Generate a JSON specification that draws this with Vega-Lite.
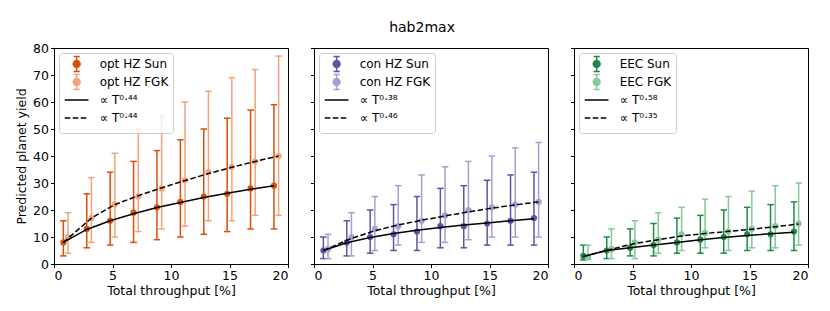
{
  "$schema": "https://vega.github.io/schema/vega-lite/v6.json",
  "padding": {"left": 15, "top": 20, "right": 5, "bottom": 5},
  "bounds": "flush",
  "spacing": 26,
  "title": {"text": "hab2max", "fontSize": 14, "fontWeight": "normal", "anchor": "middle", "offset": 7, "dx": 10, "color": "black", "font": "DejaVu Sans"},
  "config": {
    "font": "DejaVu Sans",
    "view": {"stroke": "black", "strokeWidth": 1},
    "scale": {"continuousPadding": 0},
    "axis": {"grid": false, "domainColor": "black", "tickColor": "black", "tickSize": 3.5, "tickWidth": 1, "labelColor": "black", "labelFontSize": 12.5, "titleFontSize": 12.5, "titleFontWeight": "normal", "titleColor": "black", "labelPadding": 2},
    "axisX": {"titlePadding": 3, "labelPadding": 1.5},
    "legend": {"orient": "top-left", "offset": 5, "padding": 4, "rowPadding": -4.7, "symbolSize": 156, "symbolOffset": 6.65, "labelOffset": 16, "labelFontSize": 12, "labelColor": "black", "strokeColor": "#cccccc", "fillColor": "rgba(255,255,255,0.8)", "cornerRadius": 3}
  },
  "datasets": {
    "pts": [
      {"panel": "opt", "series": "opt HZ Sun", "x": 0.8, "y": 8, "lo": 3, "hi": 16},
      {"panel": "opt", "series": "opt HZ Sun", "x": 2.8, "y": 13, "lo": 6, "hi": 26},
      {"panel": "opt", "series": "opt HZ Sun", "x": 4.8, "y": 16, "lo": 7, "hi": 34},
      {"panel": "opt", "series": "opt HZ Sun", "x": 6.8, "y": 19, "lo": 8, "hi": 38},
      {"panel": "opt", "series": "opt HZ Sun", "x": 8.8, "y": 21, "lo": 9, "hi": 42},
      {"panel": "opt", "series": "opt HZ Sun", "x": 10.8, "y": 23, "lo": 10, "hi": 46},
      {"panel": "opt", "series": "opt HZ Sun", "x": 12.8, "y": 25, "lo": 11, "hi": 50},
      {"panel": "opt", "series": "opt HZ Sun", "x": 14.8, "y": 26, "lo": 12, "hi": 54},
      {"panel": "opt", "series": "opt HZ Sun", "x": 16.8, "y": 28, "lo": 13, "hi": 57},
      {"panel": "opt", "series": "opt HZ Sun", "x": 18.8, "y": 29, "lo": 13, "hi": 59},
      {"panel": "opt", "series": "opt HZ FGK", "x": 1.2, "y": 10, "lo": 4, "hi": 19},
      {"panel": "opt", "series": "opt HZ FGK", "x": 3.2, "y": 17, "lo": 8, "hi": 32},
      {"panel": "opt", "series": "opt HZ FGK", "x": 5.2, "y": 22, "lo": 10, "hi": 41},
      {"panel": "opt", "series": "opt HZ FGK", "x": 7.2, "y": 25, "lo": 12, "hi": 50},
      {"panel": "opt", "series": "opt HZ FGK", "x": 9.2, "y": 28, "lo": 13, "hi": 55},
      {"panel": "opt", "series": "opt HZ FGK", "x": 11.2, "y": 31, "lo": 14, "hi": 60},
      {"panel": "opt", "series": "opt HZ FGK", "x": 13.2, "y": 34, "lo": 16, "hi": 64},
      {"panel": "opt", "series": "opt HZ FGK", "x": 15.2, "y": 36, "lo": 16, "hi": 69},
      {"panel": "opt", "series": "opt HZ FGK", "x": 17.2, "y": 38, "lo": 18, "hi": 72},
      {"panel": "opt", "series": "opt HZ FGK", "x": 19.2, "y": 40, "lo": 18, "hi": 77},
      {"panel": "con", "series": "con HZ Sun", "x": 0.8, "y": 5, "lo": 2, "hi": 10},
      {"panel": "con", "series": "con HZ Sun", "x": 2.8, "y": 8, "lo": 3, "hi": 16},
      {"panel": "con", "series": "con HZ Sun", "x": 4.8, "y": 10, "lo": 4, "hi": 20},
      {"panel": "con", "series": "con HZ Sun", "x": 6.8, "y": 11, "lo": 5, "hi": 22},
      {"panel": "con", "series": "con HZ Sun", "x": 8.8, "y": 12, "lo": 5, "hi": 25},
      {"panel": "con", "series": "con HZ Sun", "x": 10.8, "y": 14, "lo": 6, "hi": 28},
      {"panel": "con", "series": "con HZ Sun", "x": 12.8, "y": 14, "lo": 6, "hi": 29},
      {"panel": "con", "series": "con HZ Sun", "x": 14.8, "y": 15, "lo": 7, "hi": 31},
      {"panel": "con", "series": "con HZ Sun", "x": 16.8, "y": 16, "lo": 7, "hi": 33},
      {"panel": "con", "series": "con HZ Sun", "x": 18.8, "y": 17, "lo": 7, "hi": 34},
      {"panel": "con", "series": "con HZ FGK", "x": 1.2, "y": 5.5, "lo": 2, "hi": 11},
      {"panel": "con", "series": "con HZ FGK", "x": 3.2, "y": 10, "lo": 3, "hi": 19},
      {"panel": "con", "series": "con HZ FGK", "x": 5.2, "y": 13, "lo": 5, "hi": 25},
      {"panel": "con", "series": "con HZ FGK", "x": 7.2, "y": 14, "lo": 7, "hi": 29},
      {"panel": "con", "series": "con HZ FGK", "x": 9.2, "y": 16, "lo": 8, "hi": 33},
      {"panel": "con", "series": "con HZ FGK", "x": 11.2, "y": 18, "lo": 8, "hi": 36},
      {"panel": "con", "series": "con HZ FGK", "x": 13.2, "y": 20, "lo": 9, "hi": 38},
      {"panel": "con", "series": "con HZ FGK", "x": 15.2, "y": 21, "lo": 10, "hi": 40},
      {"panel": "con", "series": "con HZ FGK", "x": 17.2, "y": 22, "lo": 10, "hi": 43},
      {"panel": "con", "series": "con HZ FGK", "x": 19.2, "y": 23, "lo": 10, "hi": 45},
      {"panel": "eec", "series": "EEC Sun", "x": 0.8, "y": 3, "lo": 1.5, "hi": 7},
      {"panel": "eec", "series": "EEC Sun", "x": 2.8, "y": 5, "lo": 2, "hi": 10},
      {"panel": "eec", "series": "EEC Sun", "x": 4.8, "y": 6, "lo": 3, "hi": 13},
      {"panel": "eec", "series": "EEC Sun", "x": 6.8, "y": 7, "lo": 3, "hi": 15},
      {"panel": "eec", "series": "EEC Sun", "x": 8.8, "y": 8, "lo": 4, "hi": 17},
      {"panel": "eec", "series": "EEC Sun", "x": 10.8, "y": 9, "lo": 4, "hi": 18},
      {"panel": "eec", "series": "EEC Sun", "x": 12.8, "y": 10, "lo": 4, "hi": 20},
      {"panel": "eec", "series": "EEC Sun", "x": 14.8, "y": 11, "lo": 5, "hi": 21},
      {"panel": "eec", "series": "EEC Sun", "x": 16.8, "y": 11, "lo": 5, "hi": 22},
      {"panel": "eec", "series": "EEC Sun", "x": 18.8, "y": 12, "lo": 5, "hi": 23},
      {"panel": "eec", "series": "EEC FGK", "x": 1.2, "y": 2.5, "lo": 1.7, "hi": 7},
      {"panel": "eec", "series": "EEC FGK", "x": 3.2, "y": 5.5, "lo": 2, "hi": 13},
      {"panel": "eec", "series": "EEC FGK", "x": 5.2, "y": 8, "lo": 2, "hi": 16},
      {"panel": "eec", "series": "EEC FGK", "x": 7.2, "y": 9, "lo": 4, "hi": 19},
      {"panel": "eec", "series": "EEC FGK", "x": 9.2, "y": 11, "lo": 5, "hi": 21},
      {"panel": "eec", "series": "EEC FGK", "x": 11.2, "y": 11.5, "lo": 6, "hi": 24},
      {"panel": "eec", "series": "EEC FGK", "x": 13.2, "y": 12, "lo": 5, "hi": 25},
      {"panel": "eec", "series": "EEC FGK", "x": 15.2, "y": 13, "lo": 6, "hi": 27},
      {"panel": "eec", "series": "EEC FGK", "x": 17.2, "y": 14, "lo": 6, "hi": 29},
      {"panel": "eec", "series": "EEC FGK", "x": 19.2, "y": 15, "lo": 7, "hi": 30}
    ],
    "fits": [
      {"panel": "opt", "fit": "Sun", "x": 0.8, "y": 8},
      {"panel": "opt", "fit": "Sun", "x": 2.8, "y": 12.8},
      {"panel": "opt", "fit": "Sun", "x": 4.8, "y": 16},
      {"panel": "opt", "fit": "Sun", "x": 6.8, "y": 18.6},
      {"panel": "opt", "fit": "Sun", "x": 8.8, "y": 20.9},
      {"panel": "opt", "fit": "Sun", "x": 10.8, "y": 22.8},
      {"panel": "opt", "fit": "Sun", "x": 12.8, "y": 24.6},
      {"panel": "opt", "fit": "Sun", "x": 14.8, "y": 26.2},
      {"panel": "opt", "fit": "Sun", "x": 16.8, "y": 27.7},
      {"panel": "opt", "fit": "Sun", "x": 18.8, "y": 29},
      {"panel": "opt", "fit": "FGK", "x": 0.8, "y": 8},
      {"panel": "opt", "fit": "FGK", "x": 3.2, "y": 17},
      {"panel": "opt", "fit": "FGK", "x": 5.2, "y": 22},
      {"panel": "opt", "fit": "FGK", "x": 7.2, "y": 25.3},
      {"panel": "opt", "fit": "FGK", "x": 9.2, "y": 28.2},
      {"panel": "opt", "fit": "FGK", "x": 11.2, "y": 30.9},
      {"panel": "opt", "fit": "FGK", "x": 13.2, "y": 33.5},
      {"panel": "opt", "fit": "FGK", "x": 15.2, "y": 35.8},
      {"panel": "opt", "fit": "FGK", "x": 17.2, "y": 38},
      {"panel": "opt", "fit": "FGK", "x": 19.2, "y": 40},
      {"panel": "con", "fit": "Sun", "x": 0.8, "y": 5},
      {"panel": "con", "fit": "Sun", "x": 2.8, "y": 7.9},
      {"panel": "con", "fit": "Sun", "x": 4.8, "y": 9.8},
      {"panel": "con", "fit": "Sun", "x": 6.8, "y": 11.3},
      {"panel": "con", "fit": "Sun", "x": 8.8, "y": 12.5},
      {"panel": "con", "fit": "Sun", "x": 10.8, "y": 13.5},
      {"panel": "con", "fit": "Sun", "x": 12.8, "y": 14.4},
      {"panel": "con", "fit": "Sun", "x": 14.8, "y": 15.2},
      {"panel": "con", "fit": "Sun", "x": 16.8, "y": 16},
      {"panel": "con", "fit": "Sun", "x": 18.8, "y": 16.8},
      {"panel": "con", "fit": "FGK", "x": 0.8, "y": 5},
      {"panel": "con", "fit": "FGK", "x": 3.2, "y": 9.5},
      {"panel": "con", "fit": "FGK", "x": 5.2, "y": 12.3},
      {"panel": "con", "fit": "FGK", "x": 7.2, "y": 14.5},
      {"panel": "con", "fit": "FGK", "x": 9.2, "y": 16.2},
      {"panel": "con", "fit": "FGK", "x": 11.2, "y": 17.8},
      {"panel": "con", "fit": "FGK", "x": 13.2, "y": 19.3},
      {"panel": "con", "fit": "FGK", "x": 15.2, "y": 20.7},
      {"panel": "con", "fit": "FGK", "x": 17.2, "y": 21.9},
      {"panel": "con", "fit": "FGK", "x": 19.2, "y": 23},
      {"panel": "eec", "fit": "Sun", "x": 0.8, "y": 2.8},
      {"panel": "eec", "fit": "Sun", "x": 2.8, "y": 5},
      {"panel": "eec", "fit": "Sun", "x": 4.8, "y": 6},
      {"panel": "eec", "fit": "Sun", "x": 6.8, "y": 7},
      {"panel": "eec", "fit": "Sun", "x": 8.8, "y": 8},
      {"panel": "eec", "fit": "Sun", "x": 10.8, "y": 9},
      {"panel": "eec", "fit": "Sun", "x": 12.8, "y": 9.8},
      {"panel": "eec", "fit": "Sun", "x": 14.8, "y": 10.6},
      {"panel": "eec", "fit": "Sun", "x": 16.8, "y": 11.2},
      {"panel": "eec", "fit": "Sun", "x": 18.8, "y": 11.8},
      {"panel": "eec", "fit": "FGK", "x": 0.8, "y": 2.8},
      {"panel": "eec", "fit": "FGK", "x": 3.2, "y": 5.5},
      {"panel": "eec", "fit": "FGK", "x": 5.2, "y": 7.6},
      {"panel": "eec", "fit": "FGK", "x": 7.2, "y": 9},
      {"panel": "eec", "fit": "FGK", "x": 9.2, "y": 10.4},
      {"panel": "eec", "fit": "FGK", "x": 11.2, "y": 11.3},
      {"panel": "eec", "fit": "FGK", "x": 13.2, "y": 12.1},
      {"panel": "eec", "fit": "FGK", "x": 15.2, "y": 12.9},
      {"panel": "eec", "fit": "FGK", "x": 17.2, "y": 13.8},
      {"panel": "eec", "fit": "FGK", "x": 19.2, "y": 14.8}
    ]
  },
  "resolve": {"scale": {"color": "independent"}, "legend": {"color": "independent"}},
  "hconcat": [
    {
      "width": 234, "height": 216,
      "layer": [
        {
          "data": {"name": "pts"},
          "transform": [{"filter": "datum.panel == 'opt'"}],
          "encoding": {
            "x": {"field": "x", "type": "quantitative", "scale": {"domain": [0, 20], "nice": false, "padding": 0}, "axis": {"values": [0, 5, 10, 15, 20], "title": "Total throughput [%]"}},
            "color": {"field": "series", "type": "nominal",
              "scale": {"domain": ["opt HZ Sun", "opt HZ FGK", "∝ T⁰·⁴⁴", "∝ T⁰·⁴⁴ "], "range": ["#d94f0c", "#f2a47a", "black", "black"]},
              "legend": {"title": null, "encode": {"symbols": {"update": {
                "shape": {"signal": "datum.index < 2 ? 'M0,-1.2L0,1.2M-0.5,-1.2L0.5,-1.2M-0.5,1.2L0.5,1.2M0.55,0L0.476,0.275L0.275,0.476L0,0.55L-0.275,0.476L-0.476,0.275L-0.55,0L-0.476,-0.275L-0.275,-0.476L0,-0.55L0.275,-0.476L0.476,-0.275Z' : 'M-1.9,0L1.9,0M0,-1.2L0,-1.2M0,1.2L0,1.2'"},
                "size": {"value": 156},
                "fill": {"signal": "datum.index == 0 ? '#d94f0c' : datum.index == 1 ? '#f2a47a' : 'transparent'"},
                "stroke": {"signal": "datum.index == 0 ? '#d94f0c' : datum.index == 1 ? '#f2a47a' : 'black'"},
                "strokeWidth": {"value": 1.5},
                "strokeDash": {"signal": "datum.index == 3 ? [5.5, 2.5] : [1, 0]"},
                "opacity": {"value": 1}}}}}}
          },
          "layer": [
            {"mark": {"type": "rule", "strokeWidth": 1.5}, "encoding": {"y": {"field": "lo", "type": "quantitative", "scale": {"domain": [0, 80], "padding": 0}, "axis": {"values": [0, 10, 20, 30, 40, 50, 60, 70, 80], "title": "Predicted planet yield"}}, "y2": {"field": "hi"}}},
            {"mark": {"type": "tick", "orient": "horizontal", "size": 6.5, "thickness": 1.5, "opacity": 1}, "encoding": {"y": {"field": "lo", "type": "quantitative", "axis": {"values": [0, 10, 20, 30, 40, 50, 60, 70, 80], "title": "Predicted planet yield"}}}},
            {"mark": {"type": "tick", "orient": "horizontal", "size": 6.5, "thickness": 1.5, "opacity": 1}, "encoding": {"y": {"field": "hi", "type": "quantitative", "axis": {"values": [0, 10, 20, 30, 40, 50, 60, 70, 80], "title": "Predicted planet yield"}}}},
            {"mark": {"type": "point", "filled": true, "size": 38, "opacity": 1}, "encoding": {"y": {"field": "y", "type": "quantitative", "axis": {"values": [0, 10, 20, 30, 40, 50, 60, 70, 80], "title": "Predicted planet yield"}}}}
          ]
        },
        {
          "data": {"name": "fits"},
          "transform": [{"filter": "datum.panel == 'opt' && datum.fit == 'Sun'"}],
          "mark": {"type": "line", "color": "black", "strokeWidth": 1.5},
          "encoding": {
            "x": {"field": "x", "type": "quantitative", "axis": {"values": [0, 5, 10, 15, 20], "title": "Total throughput [%]"}},
            "y": {"field": "y", "type": "quantitative", "axis": {"values": [0, 10, 20, 30, 40, 50, 60, 70, 80], "title": "Predicted planet yield"}}
          }
        },
        {
          "data": {"name": "fits"},
          "transform": [{"filter": "datum.panel == 'opt' && datum.fit == 'FGK'"}],
          "mark": {"type": "line", "color": "black", "strokeWidth": 1.5, "strokeDash": [5.5, 2.5]},
          "encoding": {
            "x": {"field": "x", "type": "quantitative", "axis": {"values": [0, 5, 10, 15, 20], "title": "Total throughput [%]"}},
            "y": {"field": "y", "type": "quantitative", "axis": {"values": [0, 10, 20, 30, 40, 50, 60, 70, 80], "title": "Predicted planet yield"}}
          }
        }
      ]
    },
    {
      "width": 234, "height": 216,
      "layer": [
        {
          "data": {"name": "pts"},
          "transform": [{"filter": "datum.panel == 'con'"}],
          "encoding": {
            "x": {"field": "x", "type": "quantitative", "scale": {"domain": [0, 20], "nice": false, "padding": 0}, "axis": {"values": [0, 5, 10, 15, 20], "title": "Total throughput [%]"}},
            "color": {"field": "series", "type": "nominal",
              "scale": {"domain": ["con HZ Sun", "con HZ FGK", "∝ T⁰·³⁸", "∝ T⁰·⁴⁶"], "range": ["#6550a5", "#a99cd3", "black", "black"]},
              "legend": {"title": null, "encode": {"symbols": {"update": {
                "shape": {"signal": "datum.index < 2 ? 'M0,-1.2L0,1.2M-0.5,-1.2L0.5,-1.2M-0.5,1.2L0.5,1.2M0.55,0L0.476,0.275L0.275,0.476L0,0.55L-0.275,0.476L-0.476,0.275L-0.55,0L-0.476,-0.275L-0.275,-0.476L0,-0.55L0.275,-0.476L0.476,-0.275Z' : 'M-1.9,0L1.9,0M0,-1.2L0,-1.2M0,1.2L0,1.2'"},
                "size": {"value": 156},
                "fill": {"signal": "datum.index == 0 ? '#6550a5' : datum.index == 1 ? '#a99cd3' : 'transparent'"},
                "stroke": {"signal": "datum.index == 0 ? '#6550a5' : datum.index == 1 ? '#a99cd3' : 'black'"},
                "strokeWidth": {"value": 1.5},
                "strokeDash": {"signal": "datum.index == 3 ? [5.5, 2.5] : [1, 0]"},
                "opacity": {"value": 1}}}}}}
          },
          "layer": [
            {"mark": {"type": "rule", "strokeWidth": 1.5}, "encoding": {"y": {"field": "lo", "type": "quantitative", "scale": {"domain": [0, 80], "padding": 0}, "axis": {"values": [0, 10, 20, 30, 40, 50, 60, 70, 80], "labels": false, "title": null}}, "y2": {"field": "hi"}}},
            {"mark": {"type": "tick", "orient": "horizontal", "size": 6.5, "thickness": 1.5, "opacity": 1}, "encoding": {"y": {"field": "lo", "type": "quantitative", "axis": {"values": [0, 10, 20, 30, 40, 50, 60, 70, 80], "labels": false, "title": null}}}},
            {"mark": {"type": "tick", "orient": "horizontal", "size": 6.5, "thickness": 1.5, "opacity": 1}, "encoding": {"y": {"field": "hi", "type": "quantitative", "axis": {"values": [0, 10, 20, 30, 40, 50, 60, 70, 80], "labels": false, "title": null}}}},
            {"mark": {"type": "point", "filled": true, "size": 38, "opacity": 1}, "encoding": {"y": {"field": "y", "type": "quantitative", "axis": {"values": [0, 10, 20, 30, 40, 50, 60, 70, 80], "labels": false, "title": null}}}}
          ]
        },
        {
          "data": {"name": "fits"},
          "transform": [{"filter": "datum.panel == 'con' && datum.fit == 'Sun'"}],
          "mark": {"type": "line", "color": "black", "strokeWidth": 1.5},
          "encoding": {
            "x": {"field": "x", "type": "quantitative", "axis": {"values": [0, 5, 10, 15, 20], "title": "Total throughput [%]"}},
            "y": {"field": "y", "type": "quantitative", "axis": {"values": [0, 10, 20, 30, 40, 50, 60, 70, 80], "labels": false, "title": null}}
          }
        },
        {
          "data": {"name": "fits"},
          "transform": [{"filter": "datum.panel == 'con' && datum.fit == 'FGK'"}],
          "mark": {"type": "line", "color": "black", "strokeWidth": 1.5, "strokeDash": [5.5, 2.5]},
          "encoding": {
            "x": {"field": "x", "type": "quantitative", "axis": {"values": [0, 5, 10, 15, 20], "title": "Total throughput [%]"}},
            "y": {"field": "y", "type": "quantitative", "axis": {"values": [0, 10, 20, 30, 40, 50, 60, 70, 80], "labels": false, "title": null}}
          }
        }
      ]
    },
    {
      "width": 234, "height": 216,
      "layer": [
        {
          "data": {"name": "pts"},
          "transform": [{"filter": "datum.panel == 'eec'"}],
          "encoding": {
            "x": {"field": "x", "type": "quantitative", "scale": {"domain": [0, 20], "nice": false, "padding": 0}, "axis": {"values": [0, 5, 10, 15, 20], "title": "Total throughput [%]"}},
            "color": {"field": "series", "type": "nominal",
              "scale": {"domain": ["EEC Sun", "EEC FGK", "∝ T⁰·⁵⁸", "∝ T⁰·³⁵"], "range": ["#22884a", "#86c99a", "black", "black"]},
              "legend": {"title": null, "encode": {"symbols": {"update": {
                "shape": {"signal": "datum.index < 2 ? 'M0,-1.2L0,1.2M-0.5,-1.2L0.5,-1.2M-0.5,1.2L0.5,1.2M0.55,0L0.476,0.275L0.275,0.476L0,0.55L-0.275,0.476L-0.476,0.275L-0.55,0L-0.476,-0.275L-0.275,-0.476L0,-0.55L0.275,-0.476L0.476,-0.275Z' : 'M-1.9,0L1.9,0M0,-1.2L0,-1.2M0,1.2L0,1.2'"},
                "size": {"value": 156},
                "fill": {"signal": "datum.index == 0 ? '#22884a' : datum.index == 1 ? '#86c99a' : 'transparent'"},
                "stroke": {"signal": "datum.index == 0 ? '#22884a' : datum.index == 1 ? '#86c99a' : 'black'"},
                "strokeWidth": {"value": 1.5},
                "strokeDash": {"signal": "datum.index == 3 ? [5.5, 2.5] : [1, 0]"},
                "opacity": {"value": 1}}}}}}
          },
          "layer": [
            {"mark": {"type": "rule", "strokeWidth": 1.5}, "encoding": {"y": {"field": "lo", "type": "quantitative", "scale": {"domain": [0, 80], "padding": 0}, "axis": {"values": [0, 10, 20, 30, 40, 50, 60, 70, 80], "labels": false, "title": null}}, "y2": {"field": "hi"}}},
            {"mark": {"type": "tick", "orient": "horizontal", "size": 6.5, "thickness": 1.5, "opacity": 1}, "encoding": {"y": {"field": "lo", "type": "quantitative", "axis": {"values": [0, 10, 20, 30, 40, 50, 60, 70, 80], "labels": false, "title": null}}}},
            {"mark": {"type": "tick", "orient": "horizontal", "size": 6.5, "thickness": 1.5, "opacity": 1}, "encoding": {"y": {"field": "hi", "type": "quantitative", "axis": {"values": [0, 10, 20, 30, 40, 50, 60, 70, 80], "labels": false, "title": null}}}},
            {"mark": {"type": "point", "filled": true, "size": 38, "opacity": 1}, "encoding": {"y": {"field": "y", "type": "quantitative", "axis": {"values": [0, 10, 20, 30, 40, 50, 60, 70, 80], "labels": false, "title": null}}}}
          ]
        },
        {
          "data": {"name": "fits"},
          "transform": [{"filter": "datum.panel == 'eec' && datum.fit == 'Sun'"}],
          "mark": {"type": "line", "color": "black", "strokeWidth": 1.5},
          "encoding": {
            "x": {"field": "x", "type": "quantitative", "axis": {"values": [0, 5, 10, 15, 20], "title": "Total throughput [%]"}},
            "y": {"field": "y", "type": "quantitative", "axis": {"values": [0, 10, 20, 30, 40, 50, 60, 70, 80], "labels": false, "title": null}}
          }
        },
        {
          "data": {"name": "fits"},
          "transform": [{"filter": "datum.panel == 'eec' && datum.fit == 'FGK'"}],
          "mark": {"type": "line", "color": "black", "strokeWidth": 1.5, "strokeDash": [5.5, 2.5]},
          "encoding": {
            "x": {"field": "x", "type": "quantitative", "axis": {"values": [0, 5, 10, 15, 20], "title": "Total throughput [%]"}},
            "y": {"field": "y", "type": "quantitative", "axis": {"values": [0, 10, 20, 30, 40, 50, 60, 70, 80], "labels": false, "title": null}}
          }
        }
      ]
    }
  ]
}
